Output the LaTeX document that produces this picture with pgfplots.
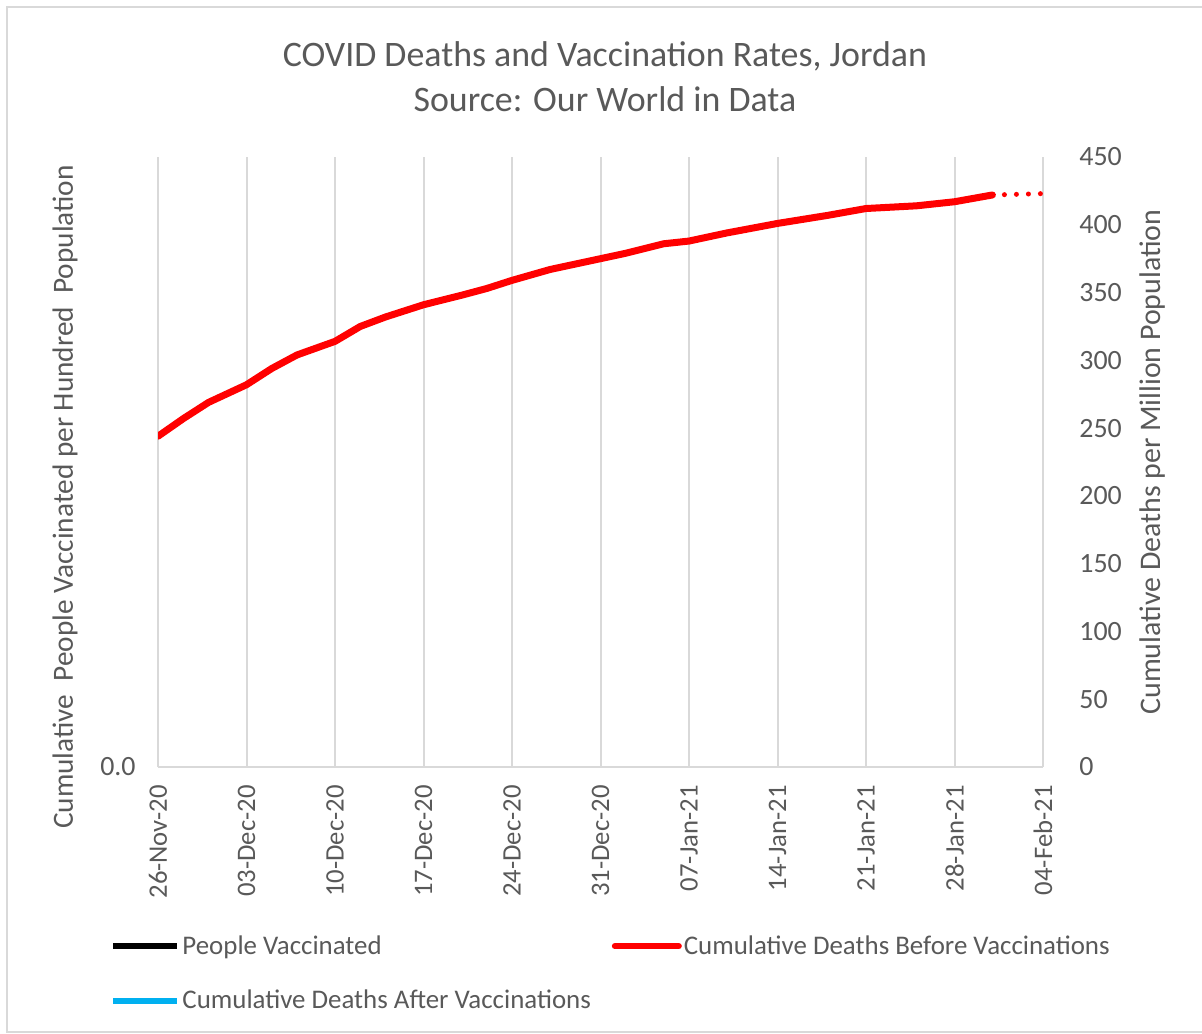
\documentclass[border=0pt]{standalone}
\usepackage{fontspec}
\setmainfont{Carlito}
\usepackage{pgfplots}
\pgfplotsset{compat=1.18}
\definecolor{txt}{RGB}{89,89,89}
\definecolor{gridc}{RGB}{217,217,217}
\definecolor{deathred}{RGB}{255,0,0}
\definecolor{aftercyan}{RGB}{0,176,240}

\begin{document}
\begin{tikzpicture}
\useasboundingbox (0,0) rectangle (601bp,-517bp);
% chart frame (right edge falls outside the picture)
\draw[gridc, line width=1bp] (605bp,-3.5bp) -- (3.5bp,-3.5bp) -- (3.5bp,-516bp) -- (605bp,-516bp);

\pgfplotsset{
  every axis/.append style={
    scale only axis, width=442.5bp, height=305bp,
    at={(79bp,-383.5bp)}, anchor=south west,
    xmin=0, xmax=70, ymin=0, ymax=450,
    major tick length=0pt,
    tick label style={text=txt},
    xticklabel style={font=\fontsize{13.4}{15}\selectfont},
    yticklabel style={font=\fontsize{14}{16}\selectfont},
    /pgf/number format/assume math mode=true,
  },
}

% left axis: vaccinations (no data yet)
\begin{axis}[
  axis x line*=bottom, axis y line*=left,
  x axis line style={gridc, line width=1bp, -},
  y axis line style={draw=none},
  ytick={0}, yticklabels={0.0},
  yticklabel style={anchor=east, inner sep=0pt}, yticklabel shift=11bp,
  xtick={0,7,...,70},
  xticklabels={26-Nov-20,03-Dec-20,10-Dec-20,17-Dec-20,24-Dec-20,31-Dec-20,07-Jan-21,14-Jan-21,21-Jan-21,28-Jan-21,04-Feb-21},
  xticklabel style={rotate=90, anchor=east, inner sep=0pt},
  xticklabel shift=9bp,
  xmajorgrids, grid style={gridc, line width=1bp},
  ylabel={Cumulative\ \ People Vaccinated per Hundred\ \ Population},
  every axis y label/.style={at={(axis description cs:-0.105,0.4426)}, rotate=90, anchor=center,
    text=txt, font=\fontsize{14.7}{16}\selectfont},
  title={COVID Deaths and Vaccination Rates, Jordan\\Source: Our World in Data},
  title style={at={(axis description cs:0.505,1.1123)}, anchor=center, align=center,
    text=txt, font=\fontsize{18}{22.5}\selectfont},
]
\end{axis}

% right axis: cumulative deaths per million
\begin{axis}[
  axis x line=none, axis y line*=right,
  y axis line style={draw=none},
  ytick={0,50,...,450},
  yticklabel style={anchor=west, inner sep=0pt}, yticklabel shift=18bp,
  ylabel={Cumulative Deaths per Million Population},
  every axis y label/.style={at={(axis description cs:1.1232,0.5)}, rotate=90, anchor=center,
    text=txt, font=\fontsize{15}{17}\selectfont},
  legend columns=2,
  legend cell align=left,
  legend image code/.code={\draw[#1, line width=3bp] (0bp,0bp) -- (32bp,0bp);},
  legend style={at={(axis description cs:-0.0542,-0.272)}, anchor=north west,
    draw=none, fill=none, inner sep=0pt, row sep=14.5bp,
    font=\fontsize{13.5}{15}\selectfont, text=txt,
    nodes={inner sep=1bp},
    /tikz/column 2/.style={column sep=9.5bp}},
]
\addlegendimage{black}
\addlegendentry{People Vaccinated}
\addplot[deathred, line width=3.5bp, line join=round, line cap=round] coordinates {
  (0,244) (2,257) (4,269) (7,282) (9,294) (11,304) (14,314) (16,325) (18,332)
  (21,341) (24,348) (26,353) (28,359) (31,367) (35,375) (37,379) (40,386)
  (42,388) (45,394) (49,401) (53,407) (56,412) (60,414) (63,417) (66,422)
};
\addlegendentry{Cumulative Deaths Before Vaccinations}
\addlegendimage{aftercyan}
\addlegendentry{Cumulative Deaths After Vaccinations}
\addplot[forget plot, deathred, line width=2.5bp, line cap=round, dash pattern=on 0bp off 6bp] coordinates {
  (66,422) (70,423)
};
\end{axis}
\end{tikzpicture}
\end{document}
